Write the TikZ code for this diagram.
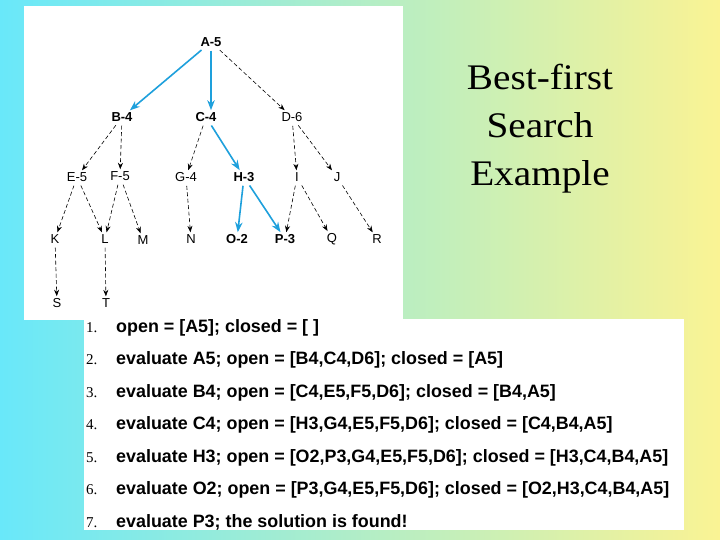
\documentclass[tikz,border=0pt]{standalone}
\usepackage{fontspec}
\setmainfont{Liberation Serif}
\newfontfamily\labelfont{Liberation Sans}
\newfontfamily\headfont[FakeStretch=1.09]{Liberation Serif}
\usetikzlibrary{arrows.meta}
\definecolor{skycyan}{RGB}{105,232,250}
\definecolor{palegreen}{RGB}{205,245,190}
\definecolor{paleyellow}{RGB}{250,243,148}
\definecolor{pathblue}{RGB}{30,160,220}

\begin{document}
\begin{tikzpicture}[
  x=1pt, y=-1pt,
  lbl/.style={font=\fontsize{13}{15}\selectfont\labelfont, inner sep=2pt},
  hit/.style={font=\fontsize{13}{15}\selectfont\labelfont\bfseries, inner sep=2pt},
  tried/.style={-{Stealth[length=6.5pt,width=5pt]}, dash pattern=on 4pt off 2.5pt, line width=0.6pt, shorten <=2pt},
  best/.style={-{Stealth[length=10pt,width=7.5pt]}, pathblue, line width=1.6pt, shorten <=2pt},
  headtxt/.style={font=\fontsize{36}{48}\selectfont\headfont, anchor=base, inner sep=0pt},
  numtxt/.style={font=\fontsize{15}{18}\selectfont, anchor=base west, inner sep=0pt},
  steptxt/.style={font=\fontsize{17.9}{20}\selectfont\labelfont\bfseries, anchor=base west, inner sep=0pt},
]
\useasboundingbox (0,0) rectangle (720,540);
\shade[left color=skycyan, middle color=palegreen, right color=paleyellow] (0,0) rectangle (720,540);
\fill[white] (24,6) rectangle (403,320);
\fill[white] (84,319) rectangle (684,530);

\node[headtxt] (h1) at (540,90) {Best-first};
\node[headtxt] (h2) at (540,138) {Search};
\node[headtxt] (h3) at (540,186) {Example};

\node[hit] (A) at (211,42) {A-5};
\node[hit] (B) at (122,117) {B-4};
\node[hit] (C) at (206,117) {C-4};
\node[lbl] (D) at (292,117) {D-6};
\node[lbl] (E) at (77,177) {E-5};
\node[lbl] (F) at (120,176) {F-5};
\node[lbl] (G) at (186,177) {G-4};
\node[hit] (H) at (244,177) {H-3};
\node[lbl] (I) at (297,177) {I};
\node[lbl] (J) at (337,177) {J};
\node[lbl] (K) at (55,239) {K};
\node[lbl] (L) at (105,239) {L};
\node[lbl] (M) at (143,240) {M};
\node[lbl] (N) at (191,239) {N};
\node[hit] (O) at (237,239) {O-2};
\node[hit] (P) at (285,239) {P-3};
\node[lbl] (Q) at (332,239) {Q};
\node[lbl] (R) at (377,239) {R};
\node[lbl] (S) at (57,303) {S};
\node[lbl] (T) at (106,303) {T};

\draw[best] (A) -- (B);
\draw[best] (A.south) -- (A.south |- C.north);
\draw[tried] (A) -- (D);
\draw[tried] (B) -- (E);
\draw[tried] (B) -- (F);
\draw[tried] (C) -- (G);
\draw[best] (C) -- (H);
\draw[tried] (D) -- (I);
\draw[tried] (D) -- (J);
\draw[tried] (E) -- (K);
\draw[tried] (E) -- (L);
\draw[tried] (F) -- (L);
\draw[tried] (F) -- (M);
\draw[tried] (G) -- (N);
\draw[best] (H) -- (O);
\draw[best] (H) -- (P);
\draw[tried] (I) -- (P);
\draw[tried] (I) -- (Q);
\draw[tried] (J) -- (R);
\draw[tried] (K) -- (S);
\draw[tried] (L) -- (T);

\foreach \i/\txt in {
  1/{open = [A5]; closed = [ ]},
  2/{evaluate A5; open = [B4,C4,D6]; closed = [A5]},
  3/{evaluate B4; open = [C4,E5,F5,D6]; closed = [B4,A5]},
  4/{evaluate C4; open = [H3,G4,E5,F5,D6]; closed = [C4,B4,A5]},
  5/{evaluate H3; open = [O2,P3,G4,E5,F5,D6]; closed = [H3,C4,B4,A5]},
  6/{evaluate O2; open = [P3,G4,E5,F5,D6]; closed = [O2,H3,C4,B4,A5]},
  7/{evaluate P3; the solution is found!}}{
  \node[numtxt] (n\i) at (86,299.5+32.5*\i) {\i.};
  \node[steptxt] (s\i) at (116,299.5+32.5*\i) {\txt};
}
\end{tikzpicture}
\end{document}
